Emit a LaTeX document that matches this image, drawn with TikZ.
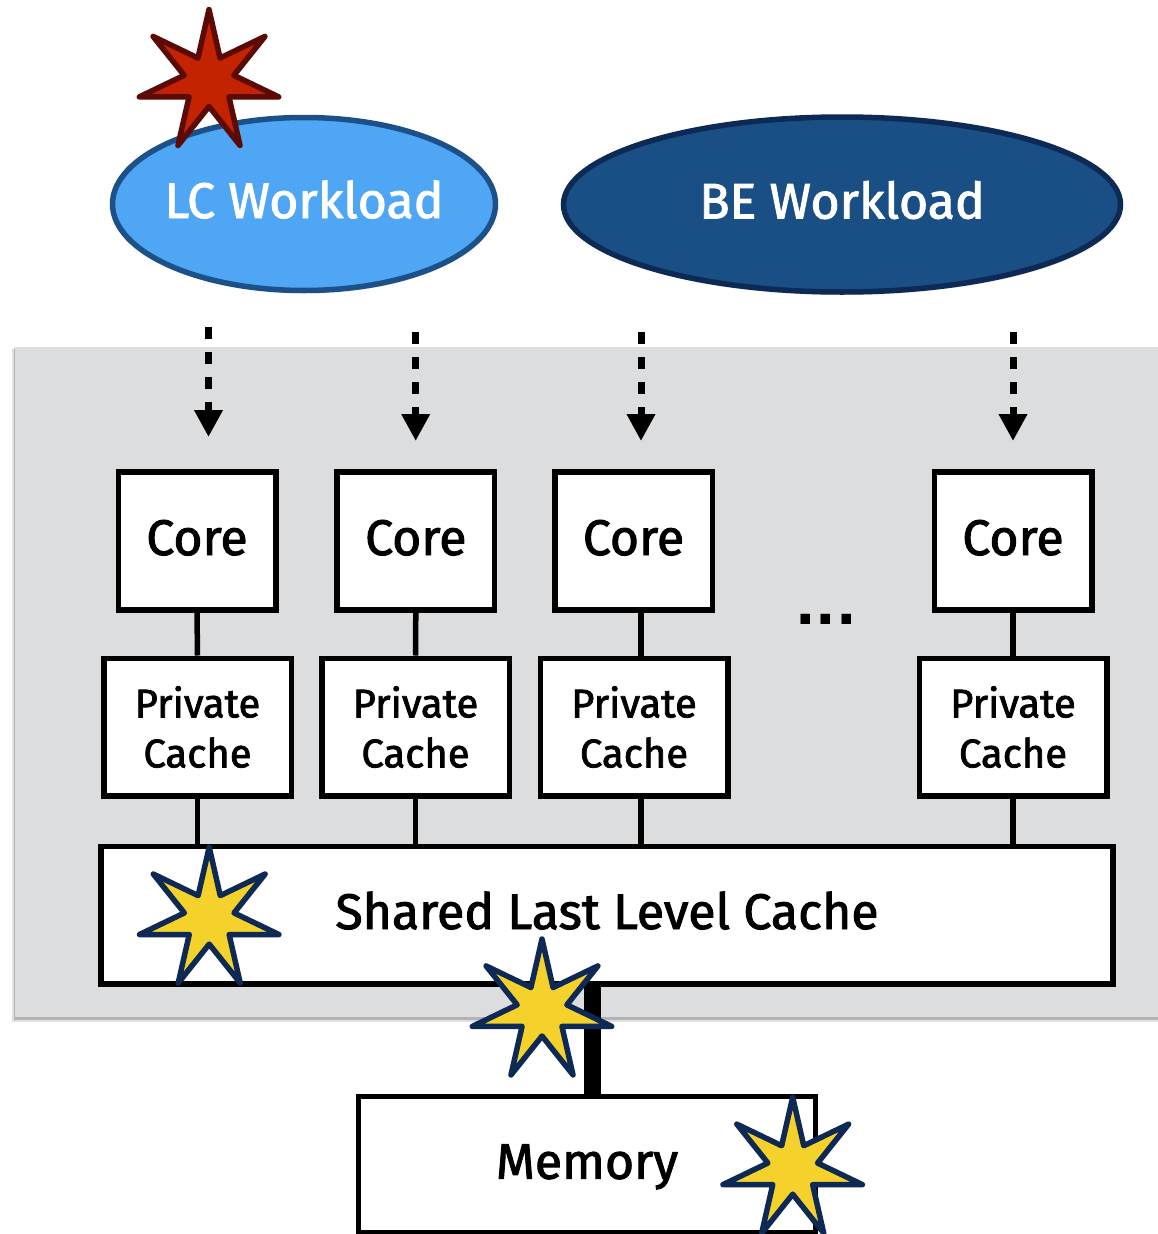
\documentclass[tikz,border=0pt]{standalone}
\usepackage{fontspec}
\setmainfont{Fira Sans}[FakeBold=1.9]
\newfontfamily\dotfont{DejaVu Sans}
\usetikzlibrary{arrows.meta,shapes.geometric,shadows}

\definecolor{panelgray}{HTML}{DCDDDF}
\definecolor{lcfill}{HTML}{4EA6F5}
\definecolor{lcline}{HTML}{1C5089}
\definecolor{befill}{HTML}{1A4F86}
\definecolor{beline}{HTML}{0C2A55}
\definecolor{hotfill}{HTML}{C42300}
\definecolor{hotline}{HTML}{5C0A05}
\definecolor{warnfill}{HTML}{F4D22B}
\definecolor{warnline}{HTML}{0E2954}

\tikzset{
  % seven-pointed burst marking a point of interference
  burst/.pic={
    \fill[black,opacity=0.22,shift={(1.5pt,-2.5pt)}] (90:71.5pt)
      \foreach \k in {0,...,5}{ -- ({90+\k*360/7+180/7}:25.5pt) -- ({90+(\k+1)*360/7}:71.5pt) }
      -- ({90+6*360/7+180/7}:25.5pt) -- cycle;
    \path[pic actions,line width=5.5pt,line join=round] (90:71.5pt)
      \foreach \k in {0,...,5}{ -- ({90+\k*360/7+180/7}:25.5pt) -- ({90+(\k+1)*360/7}:71.5pt) }
      -- ({90+6*360/7+180/7}:25.5pt) -- cycle;
  }
}

\begin{document}
\begin{tikzpicture}[x=1pt,y=-1pt,
  box/.style={draw=black, fill=white, line width=5.5pt, inner sep=0pt,
    drop shadow={shadow xshift=1.5pt, shadow yshift=-2pt, opacity=0.25}},
  bigtext/.style={font=\fontsize{50}{60}\selectfont, text height=28pt, text depth=0pt},
  corebox/.style={box, bigtext, minimum width=157.5pt, minimum height=138pt},
  cachebox/.style={box, font=\fontsize{40}{50}\selectfont, align=center,
    minimum width=187.5pt, minimum height=137.5pt},
  widebox/.style={box, bigtext},
  link/.style={line width=5.5pt},
  bus/.style={line width=17pt},
  feed/.style={line width=7pt, dash pattern=on 12pt off 13pt,
    -{Triangle[width=27pt,length=27pt]}},
  workload/.style={ellipse, line width=5.5pt, inner sep=0pt,
    drop shadow={shadow xshift=1pt, shadow yshift=-3pt, opacity=0.25}},
  wlabel/.style={bigtext, text=white, inner sep=0pt},
]
\useasboundingbox (0,0) rectangle (1157,1234);

% chip panel with its soft shadow
\fill[black,opacity=0.12] (11.5,349) rectangle (1170,1022);
\fill[black,opacity=0.2] (13.5,348) rectangle (1170,1019.5);
\fill[panelgray] (15,347) rectangle (1170,1017);

% workloads
\node[workload, fill=lcfill, draw=lcline, minimum width=383pt, minimum height=173pt] (lc) at (304,204) {};
\node[wlabel] (lctext) at (lc.center) {LC Workload};
\node[workload, fill=befill, draw=beline, minimum width=557pt, minimum height=175pt] (be) at (842,204.5) {};
\node[wlabel] (betext) at (be.center) {BE Workload};

% scheduling arrows onto the cores
\coordinate (f1s) at (208.5,327);  \coordinate (f1e) at (208.5,437);
\coordinate (f2s) at (415.7,332);  \coordinate (f2e) at (415.7,441);
\coordinate (f3s) at (641,332);    \coordinate (f3e) at (641,441);
\coordinate (f4s) at (1013,332);   \coordinate (f4e) at (1013,441);
\foreach \i in {1,...,4}{ \draw[feed] (f\i s) -- (f\i e); }

% cores and private caches
\node[corebox] (core1) at (197,541) {Core};
\node[corebox] (core2) at (415.8,541) {Core};
\node[corebox] (core3) at (633.5,541) {Core};
\node[corebox] (core4) at (1013,541) {Core};

\node[cachebox] (pc1) at (197.5,727) {Private\\Cache};
\node[cachebox] (pc2) at (415.5,727) {Private\\Cache};
\node[cachebox] (pc3) at (634,727) {Private\\Cache};
\node[cachebox] (pc4) at (1013,727) {Private\\Cache};

\node[font=\fontsize{54}{54}\dotfont\bfseries, inner sep=0pt, text height=9pt, text depth=0pt] (dots) at (826,620) {...};

% shared cache and memory
\node[widebox, minimum width=1012pt, minimum height=137.5pt] (llc) at (607,915) {Shared Last Level Cache};
\node[widebox, minimum width=457pt, minimum height=136.5pt] (mem) at (587,1164.75) {Memory};

% connections
\draw[link] (core1.south) -- (pc1.north);
\draw[link] (core2.south) -- (pc2.north);
\draw[link] (core3.south -| f3e) -- (pc3.north -| f3e);
\draw[link] (core4.south) -- (pc4.north);
\draw[link] (pc1.south) -- (pc1.south |- llc.north);
\draw[link] (pc2.south) -- (pc2.south |- llc.north);
\draw[link] (pc3.south -| f3e) -- (f3e |- llc.north);
\draw[link] (pc4.south) -- (pc4.south |- llc.north);

\coordinate (busx) at (592,1000);
\draw[bus] (llc.south -| busx) -- (mem.north -| busx);

% contention points
\pic[fill=hotfill, draw=hotline] at (209,81) {burst};
\pic[fill=warnfill, draw=warnline] at (209.2,918.6) {burst};
\pic[fill=warnfill, draw=warnline] at (542,1010.5) {burst};
\pic[fill=warnfill, draw=warnline] at (792.7,1168.7) {burst};
\end{tikzpicture}
\end{document}
